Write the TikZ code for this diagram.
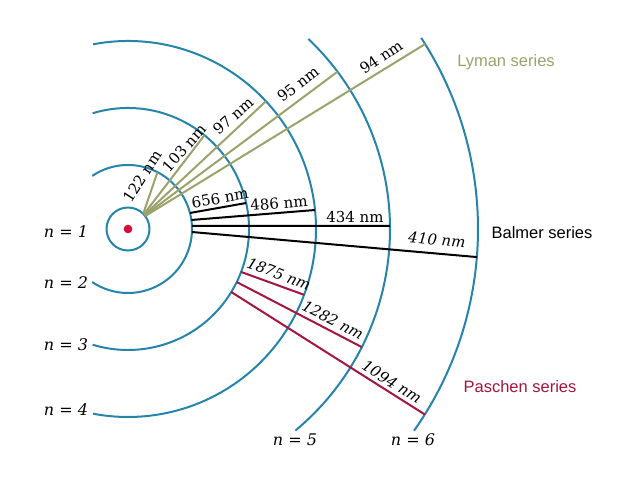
\documentclass[tikz,border=0pt]{standalone}
\usepackage{fontspec}
\setmainfont{DejaVu Serif}
\newfontfamily\seriesfont{Liberation Sans}
\definecolor{orbit}{RGB}{38,132,170}
\definecolor{lyman}{RGB}{155,162,108}
\definecolor{paschen}{RGB}{164,22,62}
\definecolor{nucleus}{RGB}{214,12,58}
\tikzset{
  orbitline/.style={draw=orbit, line width=2pt},
  lymanline/.style={draw=lyman, line width=2pt},
  balmerline/.style={draw=black, line width=2pt},
  paschenline/.style={draw=paschen, line width=2pt},
  wl/.style={inner sep=0pt, font=\fontsize{15}{18}\selectfont},
  wli/.style={inner sep=0pt, font=\fontsize{15}{18}\selectfont\itshape},
  nlabel/.style={inner sep=0pt, font=\fontsize{16}{19}\selectfont\itshape},
  serieslabel/.style={inner sep=0pt, font=\seriesfont\fontsize{16.5}{19}\selectfont},
}
\begin{document}
\begin{tikzpicture}[x=1pt,y=1pt]
\useasboundingbox (0,0) rectangle (640,480);
\coordinate (c) at (128,251);
% orbits
\draw[orbitline] (c) circle[radius=21.5];
\draw[orbitline] ([shift={(124:64)}]c) arc[start angle=124, end angle=-124, radius=64];
\draw[orbitline] ([shift={(107:121)}]c) arc[start angle=107, end angle=-107, radius=121];
\draw[orbitline] ([shift={(100.7:188)}]c) arc[start angle=100.7, end angle=-100.7, radius=188];
\draw[orbitline] ([shift={(46.5:262)}]c) arc[start angle=46.5, end angle=-50.3, radius=262];
\draw[orbitline] ([shift={(33.1:350)}]c) arc[start angle=33.1, end angle=-35.2, radius=350];
\fill[nucleus] (c) circle[radius=4.3];
% Lyman
\coordinate (ls1) at ([shift={(45:21.5)}]c);
\coordinate (ls2) at ([shift={(43:21.5)}]c);
\coordinate (ls3) at ([shift={(41:21.5)}]c);
\coordinate (ls4) at ([shift={(39:21.5)}]c);
\coordinate (ls5) at ([shift={(37:21.5)}]c);
\coordinate (le1) at ([shift={(62.6:64)}]c);
\coordinate (le2) at ([shift={(50.8:121)}]c);
\coordinate (le3) at ([shift={(42.8:188)}]c);
\coordinate (le4) at ([shift={(36.9:262)}]c);
\coordinate (le5) at ([shift={(31.9:350)}]c);
\draw[lymanline] (ls1) -- (le1);
\draw[lymanline] (ls2) -- (le2);
\draw[lymanline] (ls3) -- (le3);
\draw[lymanline] (ls4) -- (le4);
\draw[lymanline] (ls5) -- (le5);
% Balmer
\coordinate (bs1) at ([shift={(14.5:64)}]c);
\coordinate (bs2) at ([shift={(8.1:64)}]c);
\coordinate (bs3) at ([shift={(2.7:64)}]c);
\coordinate (bs4) at ([shift={(-2.7:64)}]c);
\coordinate (be1) at ([shift={(12.4:121)}]c);
\coordinate (be2) at ([shift={(5.8:188)}]c);
\coordinate (be3) at ([shift={(0.66:262)}]c);
\coordinate (be4) at ([shift={(-4.6:350)}]c);
\draw[balmerline] (bs1) -- (be1);
\draw[balmerline] (bs2) -- (be2);
\draw[balmerline] (bs3) -- (be3);
\draw[balmerline] (bs4) -- (be4);
% Paschen
\coordinate (ps1) at ([shift={(-20.8:121)}]c);
\coordinate (ps2) at ([shift={(-26:121)}]c);
\coordinate (ps3) at ([shift={(-31.4:121)}]c);
\coordinate (pe1) at ([shift={(-20.5:188)}]c);
\coordinate (pe2) at ([shift={(-26.8:262)}]c);
\coordinate (pe3) at ([shift={(-32:350)}]c);
\draw[paschenline] (ps1) -- (pe1);
\draw[paschenline] (ps2) -- (pe2);
\draw[paschenline] (ps3) -- (pe3);
% wavelength labels
\node[wl, rotate=57] (t122) at (142,304) {122 nm};
\node[wl, rotate=48.5] (t103) at (184,332) {103 nm};
\node[wl, rotate=41] (t97) at (233,364) {97 nm};
\node[wl, rotate=37.5] (t95) at (298,396) {95 nm};
\node[wl, rotate=34] (t94) at (381,423) {94 nm};
\node[wl, rotate=10] (t656) at (220,282) {656 nm};
\node[wl, rotate=5] (t486) at (279,277) {486 nm};
\node[wl] (t434) at (355,263) {434 nm};
\node[wli, rotate=-5] (t410) at (437,240) {410 nm};
\node[wli, rotate=-21] (t1875) at (279,206) {1875 nm};
\node[wli, rotate=-27.5] (t1282) at (333,160) {1282 nm};
\node[wli, rotate=-32] (t1094) at (392,98) {1094 nm};
% orbit labels
\node[nlabel] (n1) at (66,248) {n = 1};
\node[nlabel] (n2) at (66,197) {n = 2};
\node[nlabel] (n3) at (66,135) {n = 3};
\node[nlabel] (n4) at (66,70) {n = 4};
\node[nlabel] (n5) at (295,40) {n = 5};
\node[nlabel] (n6) at (413,40) {n = 6};
% series labels
\node[serieslabel, text=lyman] (sl) at (506,418) {Lyman series};
\node[serieslabel, text=black] (sb) at (542,247) {Balmer series};
\node[serieslabel, text=paschen] (sp) at (520,93) {Paschen series};
\end{tikzpicture}
\end{document}
